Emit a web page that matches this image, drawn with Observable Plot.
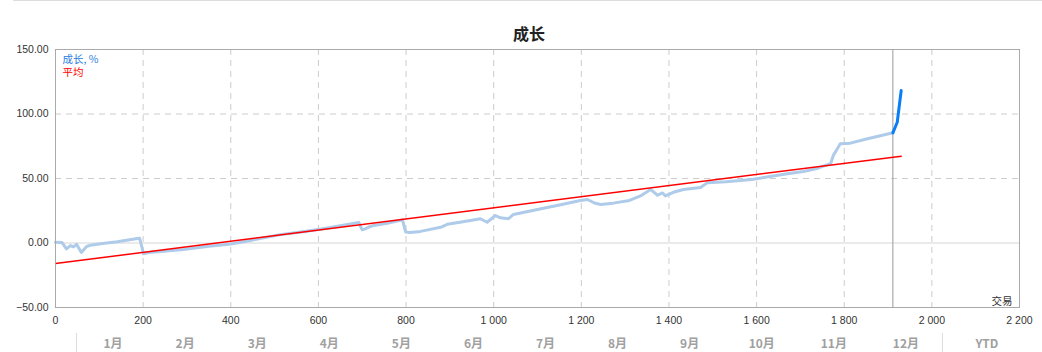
<!DOCTYPE html>
<html><head><meta charset="utf-8">
<script src="https://cdn.jsdelivr.net/npm/d3@7"></script>
<script src="https://cdn.jsdelivr.net/npm/@observablehq/plot@0.6"></script>
<style>
body{margin:0;background:#fff;font-family:"Liberation Sans",Arial,sans-serif;}
#wrap{position:relative;width:1042px;height:352px;overflow:hidden;}
#topline{position:absolute;left:13px;right:0;top:0;border-top:1px solid #ddd;}
#title{position:absolute;top:21px;left:0;width:1058px;text-align:center;font:bold 16px "Noto Sans CJK SC",sans-serif;color:#222;}
#chart{position:absolute;left:0;top:0;}
#months{position:absolute;top:333px;left:76px;display:flex;height:19px;}
.m{width:72.08px;text-align:center;font:bold 12px "Noto Sans CJK SC",sans-serif;color:#a0a0a0;line-height:19px;}
.sep{border-left:1px solid #ddd;}
.ytd{width:88px;}
</style>
</head><body>
<div id="wrap">
  <div id="topline"></div>
  <div id="chart"></div>
  <div id="title"></div>
  <div id="months"></div>
</div>
<script>
const chartTitle = "成长";
const legendGrowth = "成长, %";
const legendAvg = "平均";
const axisNote = "交易";
const monthLabels = ["1月","2月","3月","4月","5月","6月","7月","8月","9月","10月","11月","12月"];
const ytdLabel = "YTD";

const xTicks = [0,200,400,600,800,1000,1200,1400,1600,1800,2000,2200];
const yTicks = [-50,0,50,100,150];
const xGridTicks = [200,400,600,800,1000,1200,1400,1600,1800,2000];
const yGridTicks = [50,100];
const currentTrade = 1911;

const growthTrades = [0,15,25,34,41,48,59,71,80,103,141,187,192,201,212,240,292,350,400,445,513,560,600,650,692,700,707,714,726,757,792,799,810,833,879,894,930,970,985,1004,1015,1034,1045,1100,1150,1198,1214,1230,1244,1273,1310,1335,1358,1374,1385,1392,1410,1433,1472,1488,1530,1563,1593,1630,1670,1707,1740,1760,1769,1775,1791,1814,1853,1880,1911];
const growthValues = [0.5,0.3,-4.5,-2,-3,-1,-7.4,-2.7,-1.7,-0.6,1,3.5,3.7,-8.4,-7.4,-6.5,-5,-2.5,-0.8,2,6.5,8.5,10.5,13.3,15.9,10.2,11,12.2,13.6,15.3,18,8.6,8.1,9,12.2,14.5,16.5,18.8,16.1,21.3,19.5,18.8,22.1,26,29.5,32.9,33.7,31,29.8,30.9,33,36.5,41.5,37,38.8,36.5,39.3,41.5,43,46.8,47.5,48.4,49.5,51.5,53.6,55.4,58,60.5,61.4,67.8,76.9,77.4,80.8,83,85.4];

const recentTrades = [1911,1921,1930];
const recentValues = [85.4,93.6,118.2];

const avgTrades = [0,1930];
const avgValues = [-15.9,67.3];

const growth = growthTrades.map((t,i)=>({t, v: growthValues[i]}));
const recent = recentTrades.map((t,i)=>({t, v: recentValues[i]}));
const avg = avgTrades.map((t,i)=>({t, v: avgValues[i]}));

const fmtX = d3.formatLocale({decimal:".", thousands:" ", grouping:[3], currency:["",""]}).format(",");
const fmtY = d3.format(".2f");

const plot = Plot.plot({
  width: 1042, height: 352,
  marginTop: 49, marginBottom: 45, marginLeft: 55, marginRight: 23,
  style: {fontFamily: "'Liberation Sans', Arial, sans-serif", fontSize: "10.5px", color: "#333", background: "transparent"},
  x: {domain: [0, 2200], label: null},
  y: {domain: [-50, 150], label: null},
  marks: [
    Plot.gridX(xGridTicks, {stroke: "#ccc", strokeOpacity: 1, strokeDasharray: "6,5"}),
    Plot.gridY(yGridTicks, {stroke: "#ccc", strokeOpacity: 1, strokeDasharray: "6,5"}),
    Plot.ruleY([0], {stroke: "#d6d6d6"}),
    Plot.ruleX([currentTrade], {stroke: "#999"}),
    Plot.line(growth, {x: "t", y: "v", stroke: "#aecbea", strokeWidth: 3, strokeLinejoin: "round"}),
    Plot.line(recent, {x: "t", y: "v", stroke: "#0a7ff5", strokeWidth: 3}),
    Plot.line(avg, {x: "t", y: "v", stroke: "#ff0000", strokeWidth: 1.5}),
    Plot.frame({stroke: "#aaa"}),
    Plot.axisX({ticks: xTicks, tickFormat: fmtX, tickSize: 0, tickPadding: 9, label: null}),
    Plot.axisY({ticks: yTicks, tickFormat: fmtY, tickSize: 0, tickPadding: 7, label: null}),
    Plot.text([legendGrowth], {frameAnchor: "top-left", dx: 7, dy: 6, fill: "#2b7de0", fontSize: 10.5, fontFamily: "'Noto Sans CJK SC', sans-serif"}),
    Plot.text([legendAvg], {frameAnchor: "top-left", dx: 7, dy: 19, fill: "#ff0000", fontSize: 10.5, fontFamily: "'Noto Sans CJK SC', sans-serif"}),
    Plot.text([axisNote], {frameAnchor: "bottom-right", dx: -7, dy: -3, fill: "#333", fontSize: 10.5, fontFamily: "'Noto Sans CJK SC', sans-serif"})
  ]
});
document.getElementById("chart").appendChild(plot);
document.getElementById("title").textContent = chartTitle;

const mrow = document.getElementById("months");
monthLabels.forEach((m,i)=>{
  const d = document.createElement("div");
  d.className = "m" + (i===0 ? " sep" : "");
  d.textContent = m;
  mrow.appendChild(d);
});
const y = document.createElement("div");
y.className = "m sep ytd";
y.textContent = ytdLabel;
mrow.appendChild(y);
</script>
</body></html>
